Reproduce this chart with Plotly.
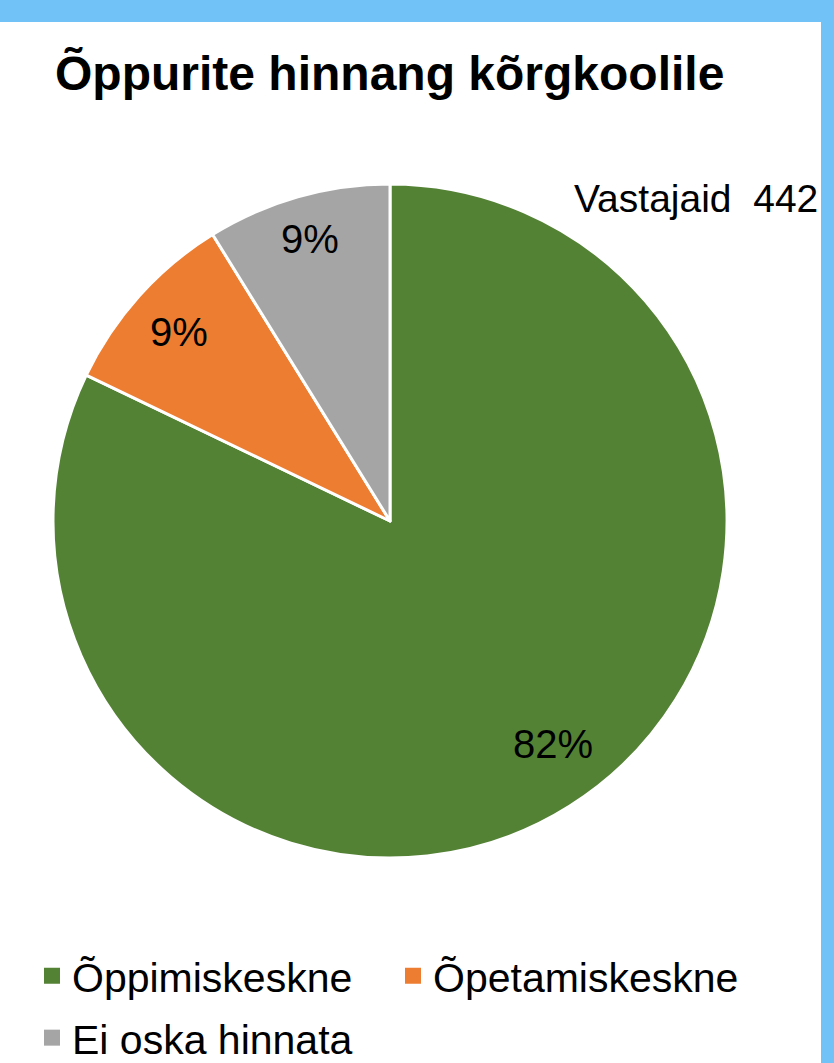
import math
import plotly.graph_objects as go

# data
categories = ["Õppimiskeskne", "Õpetamiskeskne", "Ei oska hinnata"]
counts = [363, 40, 39]
respondents = 442
colors = ["#548235", "#ED7D31", "#A5A5A5"]
label_radius = [0.82, 0.84, 0.87]   # where the % labels sit, as share of the radius
label_turn = [-4, 0, 0]             # small angular nudge of labels, degrees
legend_rows = [1, 1, 2]

W, H = 834, 1063
# pie box in pixels
L, R, T, B = 53, 727, 184, 858
BLUE = "#70C2F7"
FONT = "Liberation Sans, Arial"


def px_x(x):
    return (x - L) / (R - L)


def px_y(y):
    return (B - y) / (B - T)


fig = go.Figure()

fig.add_trace(go.Pie(
    labels=categories,
    values=counts,
    sort=False,
    direction="clockwise",
    rotation=0,
    marker=dict(colors=colors, line=dict(color="white", width=3)),
    textinfo="none",
    hoverinfo="label+value+percent",
    showlegend=False,
))

# legend entries with bigger square symbols
for cat, col, row in zip(categories, colors, legend_rows):
    fig.add_trace(go.Scatter(
        x=[None], y=[None], mode="markers", name=cat,
        marker=dict(symbol="square", size=16, color=col),
        legend="legend" if row == 1 else "legend2",
        hoverinfo="skip",
    ))

# percent labels near the middle angle of each slice
annotations = []
total = sum(counts)
start = 0.0
for val, rr, turn in zip(counts, label_radius, label_turn):
    frac = val / total
    mid = (start + frac / 2) * 2 * math.pi + math.radians(turn)
    start += frac
    annotations.append(dict(
        text=f"{round(frac * 100)}%",
        xref="paper", yref="paper",
        x=0.5 + 0.5 * rr * math.sin(mid),
        y=0.5 + 0.5 * rr * math.cos(mid),
        xanchor="center", yanchor="middle",
        showarrow=False,
        font=dict(family=FONT, size=40, color="black"),
    ))

annotations.append(dict(
    text=f"Vastajaid\u00a0 {respondents}",
    xref="paper", yref="paper",
    x=px_x(820), y=px_y(198),
    xanchor="right", yanchor="middle",
    showarrow=False,
    font=dict(family=FONT, size=39, color="black"),
))

legend_style = dict(
    orientation="h", xanchor="left", yanchor="middle",
    font=dict(family=FONT, size=41, color="black"),
    entrywidth=316, entrywidthmode="pixels",
    bgcolor="rgba(0,0,0,0)",
)

fig.update_layout(
    width=W,
    height=H,
    margin=dict(l=L, r=W - R, t=T, b=H - B, autoexpand=False),
    paper_bgcolor="white",
    plot_bgcolor="white",
    font=dict(family=FONT, color="black"),
    xaxis=dict(visible=False),
    yaxis=dict(visible=False),
    title=dict(
        text="<b>Õppurite hinnang kõrgkoolile</b>",
        font=dict(family=FONT, size=48, color="black"),
        xref="container", x=55 / W, xanchor="left",
        yref="container", y=1 - 73 / H, yanchor="middle",
    ),
    showlegend=True,
    legend=dict(legend_style, x=px_x(32), y=px_y(976)),
    legend2=dict(legend_style, x=px_x(32), y=px_y(1038)),
    annotations=annotations,
    shapes=[
        dict(type="rect", xref="paper", yref="paper", layer="above",
             x0=px_x(-10), x1=px_x(W + 10), y0=px_y(22), y1=px_y(-10),
             fillcolor=BLUE, line=dict(width=0)),
        dict(type="rect", xref="paper", yref="paper", layer="above",
             x0=px_x(821), x1=px_x(W + 10), y0=px_y(H + 10), y1=px_y(-10),
             fillcolor=BLUE, line=dict(width=0)),
    ],
)

fig.write_html(
    "out.html",
    config={"displayModeBar": False},
    post_script="document.body.style.margin='0';document.body.style.overflow='hidden';",
)
